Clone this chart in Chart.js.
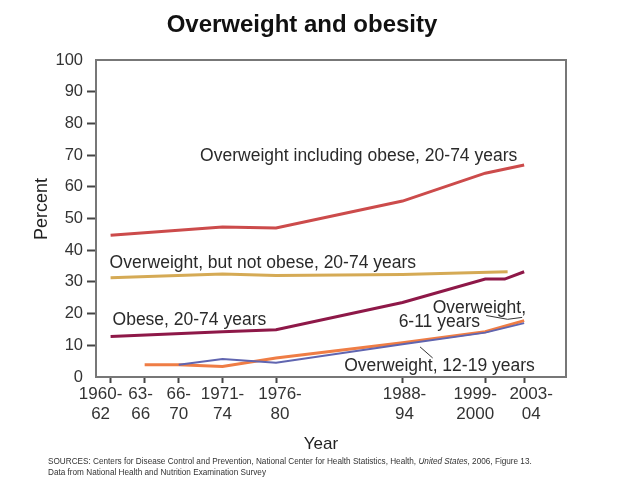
<!DOCTYPE html>
<html>
<head>
<meta charset="utf-8">
<script src="https://cdn.jsdelivr.net/npm/chart.js@4.4.1/dist/chart.umd.min.js"></script>
<style>
  html, body { margin: 0; padding: 0; background: #fff; }
  #wrap { width: 637px; height: 500px; position: relative; }
</style>
</head>
<body>
<div id="wrap"><canvas id="obesityChart"></canvas></div>
<script>
// survey periods (x axis), placed at mid-year
const periodLabels = [['1960-', '62'], ['63-', '66'], ['66-', '70'], ['1971-', '74'], ['1976-', '80'], ['1988-', '94'], ['1999-', '2000'], ['2003-', '04']];
const periodYears = [1961, 1964.5, 1968, 1972.5, 1978, 1991, 1999.5, 2003.5];
// the original spreads crowded labels sideways a bit (px)
const labelNudge = [-10, -4, 0, 0, 4, 2, -10, 7];

// series, each with its own survey years
const inclObeseYears = [1961, 1972.5, 1978, 1991, 1999.5, 2003.5];
const inclObese = [44.7, 47.3, 47.0, 55.5, 64.3, 66.9];

const notObeseYears = [1961, 1972.5, 1978, 1991, 2001.8];
const notObese = [31.3, 32.5, 32.0, 32.3, 33.2];

const obeseYears = [1961, 1972.5, 1978, 1991, 1999.5, 2001.5, 2003.5];
const obese = [12.8, 14.3, 14.9, 23.5, 30.9, 30.9, 33.2];

const child611Years = [1964.5, 1968, 1972.5, 1978, 1991, 1999.5, 2003.5];
const child611 = [3.9, 3.9, 3.3, 6.0, 10.8, 14.3, 17.8];

const teen1219Years = [1968, 1972.5, 1978, 1991, 1999.5, 2003.5];
const teen1219 = [3.9, 5.7, 4.5, 10.3, 14.0, 17.0];

const yTicks = [0, 10, 20, 30, 40, 50, 60, 70, 80, 90, 100];

const FONT = "'Liberation Sans', Arial, sans-serif";

function pts(xs, ys) {
  return xs.map((x, i) => ({ x: x, y: ys[i] }));
}

// in-plot labels, anchored in data units
const seriesLabels = [
  { text: 'Overweight including obese, 20-74 years', x: 1970.2, y: 69.7 },
  { text: 'Overweight, but not obese, 20-74 years', x: 1960.9, y: 36.0 },
  { text: 'Obese, 20-74 years', x: 1961.2, y: 17.8 },
  { text: 'Overweight,', x: 1994.1, y: 21.6 },
  { text: '6-11 years', x: 1990.6, y: 17.2 },
  { text: 'Overweight, 12-19 years', x: 1985.0, y: 3.3 }
];
const leaders = [
  [[1999.6, 19.4], [2001.8, 18.2], [2003.3, 18.8]],
  [[1992.8, 9.5], [1994.1, 6.0]]
];

const extrasPlugin = {
  id: 'extras',
  afterDraw(chart) {
    const c = chart.ctx;
    const a = chart.chartArea;
    const xs = chart.scales.x, ys = chart.scales.y;
    c.save();

    // frame
    c.strokeStyle = '#777';
    c.lineWidth = 2;
    c.strokeRect(a.left, a.top, a.right - a.left, a.bottom - a.top);

    // title
    c.fillStyle = '#111';
    c.font = 'bold 24px ' + FONT;
    c.textAlign = 'center';
    c.textBaseline = 'middle';
    c.fillText('Overweight and obesity', 302, 25);

    // x tick labels
    c.fillStyle = '#333';
    c.font = '17px ' + FONT;
    periodYears.forEach((yr, i) => {
      const px = xs.getPixelForValue(yr) + labelNudge[i];
      c.fillText(periodLabels[i][0], px, a.bottom + 17);
      c.fillText(periodLabels[i][1], px, a.bottom + 37);
    });

    // axis titles
    c.fillStyle = '#222';
    c.font = '17px ' + FONT;
    c.fillText('Year', (a.left + a.right) / 2 - 10, 444);
    c.save();
    c.translate(42, 209);
    c.rotate(-Math.PI / 2);
    c.font = '18px ' + FONT;
    c.fillText('Percent', 0, 0);
    c.restore();

    // series labels
    c.font = '17.5px ' + FONT;
    c.fillStyle = '#2a2a2a';
    c.textAlign = 'left';
    seriesLabels.forEach(l => {
      c.fillText(l.text, xs.getPixelForValue(l.x), ys.getPixelForValue(l.y));
    });

    c.strokeStyle = '#333';
    c.lineWidth = 1;
    leaders.forEach(seg => {
      c.beginPath();
      seg.forEach((p, i) => {
        const px = xs.getPixelForValue(p[0]), py = ys.getPixelForValue(p[1]);
        if (i === 0) c.moveTo(px, py); else c.lineTo(px, py);
      });
      c.stroke();
    });

    // source note
    c.fillStyle = '#333';
    c.font = '8.2px ' + FONT;
    c.textBaseline = 'middle';
    let sx = 48;
    const part1 = 'SOURCES: Centers for Disease Control and Prevention, National Center for Health Statistics, Health, ';
    c.fillText(part1, sx, 462);
    sx += c.measureText(part1).width;
    c.font = 'italic 8.2px ' + FONT;
    c.fillText('United States', sx, 462);
    sx += c.measureText('United States').width;
    c.font = '8.2px ' + FONT;
    c.fillText(', 2006, Figure 13.', sx, 462);
    c.fillText('Data from National Health and Nutrition Examination Survey', 48, 473);

    c.restore();
  }
};

const lineStyle = { borderWidth: 3, pointRadius: 0, tension: 0, fill: false };
const edgeTick = ctx => (ctx.tick && (ctx.tick.value === 0 || ctx.tick.value === 100)) ? 'rgba(0,0,0,0)' : '#444';

new Chart(document.getElementById('obesityChart'), {
  type: 'line',
  data: {
    datasets: [
      { label: 'Overweight including obese, 20-74 years', data: pts(inclObeseYears, inclObese), borderColor: '#cc4b4b', ...lineStyle },
      { label: 'Overweight, but not obese, 20-74 years', data: pts(notObeseYears, notObese), borderColor: '#d5aa55', ...lineStyle },
      { label: 'Obese, 20-74 years', data: pts(obeseYears, obese), borderColor: '#8e1848', ...lineStyle },
      { label: 'Overweight, 12-19 years', data: pts(teen1219Years, teen1219), borderColor: '#6065b0', ...lineStyle, borderWidth: 2 },
      { label: 'Overweight, 6-11 years', data: pts(child611Years, child611), borderColor: '#ef7d45', ...lineStyle }
    ]
  },
  options: {
    responsive: true,
    maintainAspectRatio: false,
    animation: false,
    layout: { padding: { left: 0, right: 71, top: 60, bottom: 0 } },
    plugins: {
      legend: { display: false },
      tooltip: { enabled: false }
    },
    scales: {
      x: {
        type: 'linear',
        min: 1959.5,
        max: 2007.8,
        afterFit: axis => { axis.height = 123; },
        afterBuildTicks: axis => { axis.ticks = periodYears.map(v => ({ value: v })); },
        ticks: { display: false },
        grid: { drawOnChartArea: false, tickLength: 6, tickColor: '#444', tickWidth: 2 },
        border: { display: false }
      },
      y: {
        min: 0,
        max: 100,
        afterFit: axis => { axis.width = 96; },
        afterBuildTicks: axis => { axis.ticks = yTicks.map(v => ({ value: v })); },
        ticks: {
          color: '#333',
          font: { family: FONT, size: 16.5 },
          padding: 4
        },
        grid: { drawOnChartArea: false, tickLength: 9, tickColor: edgeTick, tickWidth: 2 },
        border: { display: false }
      }
    }
  },
  plugins: [extrasPlugin]
});
</script>
</body>
</html>
